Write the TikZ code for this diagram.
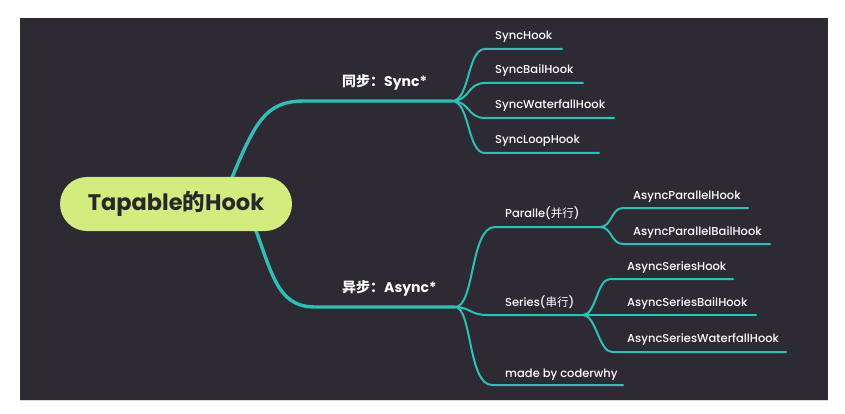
\documentclass[tikz,border=0pt]{standalone}
\usepackage{fontspec}
\setmainfont{Poppins}
\newfontfamily\pmed{Poppins Medium}
\newfontfamily\cjk{Noto Sans CJK SC}
\usetikzlibrary{calc}
\definecolor{bgdark}{RGB}{46,42,51}
\definecolor{lteal}{RGB}{40,194,184}
\definecolor{rootfill}{RGB}{210,236,128}
\definecolor{roottext}{RGB}{40,40,44}
\begin{document}
\begin{tikzpicture}[x=1pt,y=-1pt,
  mainline/.style={draw=lteal,line width=3.4pt,line cap=round},
  subline/.style={draw=lteal,line width=2pt,line cap=round},
  lbl/.style={text=white,anchor=base west,inner sep=0pt,font=\pmed\fontsize{11.5}{13}\selectfont},
  biglbl/.style={text=white,anchor=base west,inner sep=0pt,font=\bfseries\fontsize{14}{16}\selectfont},
  rootbox/.style={fill=rootfill,rounded corners=27pt,minimum width=232pt,minimum height=54pt,inner sep=0pt,text=roottext,font=\bfseries\fontsize{22.5}{26}\selectfont}]
\useasboundingbox (0,0) rectangle (845,414);
\fill[white] (0,0) rectangle (845,414);
\fill[bgdark] (20,18) rectangle (828,400);
\draw[black!15,line width=0.8pt] (20,400) -- (828,400);

% coordinates
\coordinate (rs) at (225,195);
\coordinate (ra) at (250,215);
\coordinate (sy) at (305,101);
\coordinate (JS) at (452,101);
\coordinate (as) at (315,307);
\coordinate (JA) at (455,307);
% sync leaves
\coordinate (s1a) at (485,49);  \coordinate (s1b) at (562,49);
\coordinate (s2a) at (485,83);  \coordinate (s2b) at (583,83);
\coordinate (s3a) at (485,118); \coordinate (s3b) at (614,118);
\coordinate (s4a) at (485,153); \coordinate (s4b) at (599,153);
% async children
\coordinate (pa) at (495,227); \coordinate (JP) at (600,227);
\coordinate (sa) at (487,315); \coordinate (JR) at (583,315);
\coordinate (ma) at (492,385); \coordinate (mb) at (623,385);
% parallel leaves
\coordinate (p1a) at (623,208); \coordinate (p1b) at (748,208);
\coordinate (p2a) at (623,244); \coordinate (p2b) at (770,244);
% series leaves
\coordinate (r1a) at (610,279); \coordinate (r1b) at (733,279);
\coordinate (r2b) at (756,315);
\coordinate (r3a) at (612,352); \coordinate (r3b) at (786,352);

% main branches
\draw[mainline] (rs) .. controls (255,120) and (265,101) .. (sy) -- (JS);
\draw[mainline] (ra) .. controls (272,270) and (275,307) .. (as) -- (JA);

% sync fan
\foreach \a/\b in {s1a/s1b,s2a/s2b,s3a/s3b,s4a/s4b}{
  \draw[subline] (JS) .. controls ($(JS)+(18,0)$) and ($(\a)+(-18,0)$) .. (\a) -- (\b);
}
% async fan
\draw[subline] (JA) .. controls (475,307) and (470,227) .. (pa) -- (JP);
\draw[subline] (JA) .. controls (470,307) and (470,315) .. (sa) -- (JR);
\draw[subline] (JA) .. controls (472,307) and (468,385) .. (ma) -- (mb);
% parallel fan
\foreach \a/\b in {p1a/p1b,p2a/p2b}{
  \draw[subline] (JP) .. controls ($(JP)+(12,0)$) and ($(\a)+(-12,0)$) .. (\a) -- (\b);
}
% series fan
\draw[subline] (JR) .. controls ($(JR)+(13,0)$) and ($(r1a)+(-13,0)$) .. (r1a) -- (r1b);
\draw[subline] (JR) -- (r2b);
\draw[subline] (JR) .. controls ($(JR)+(13,0)$) and ($(r3a)+(-13,0)$) .. (r3a) -- (r3b);

% root
\node[rootbox] (root) at (176,204) {Tapable{\cjk\bfseries 的}Hook};

% labels
\node[biglbl] (tsync) at (342,87) {{\cjk\bfseries 同步：}Sync*};
\node[biglbl] (tasync) at (342,292) {{\cjk\bfseries 异步：}Async*};
\node[lbl] (t1) at (495,40) {SyncHook};
\node[lbl] (t2) at (495,74) {SyncBailHook};
\node[lbl] (t3) at (495,109) {SyncWaterfallHook};
\node[lbl] (t4) at (495,144) {SyncLoopHook};
\node[lbl] (tp) at (505,217) {Paralle({\cjk 并行})};
\node[lbl] (tr) at (505,306) {Series({\cjk 串行})};
\node[lbl] (tm) at (505,377) {made by coderwhy};
\node[lbl] (tp1) at (633,199) {AsyncParallelHook};
\node[lbl] (tp2) at (633,235) {AsyncParallelBailHook};
\node[lbl] (tr1) at (627,270) {AsyncSeriesHook};
\node[lbl] (tr2) at (627,306) {AsyncSeriesBailHook};
\node[lbl] (tr3) at (627,342) {AsyncSeriesWaterfallHook};
\end{tikzpicture}
\end{document}
